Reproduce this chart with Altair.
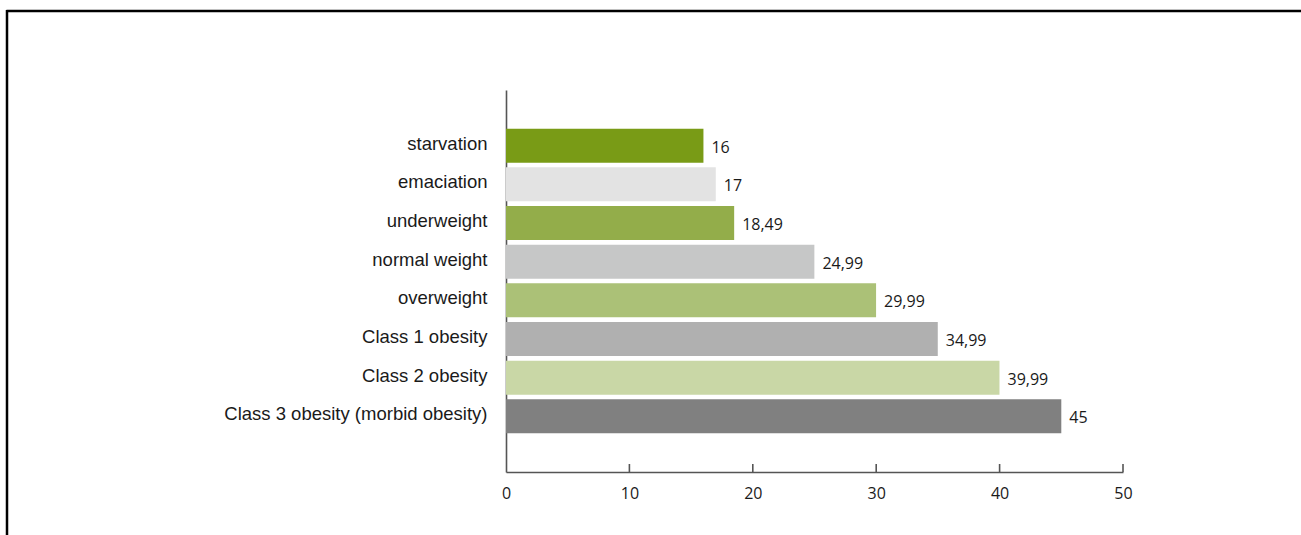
import altair as alt
import pandas as pd

# BMI category upper bounds
categories = [
    "starvation",
    "emaciation",
    "underweight",
    "normal weight",
    "overweight",
    "Class 1 obesity",
    "Class 2 obesity",
    "Class 3 obesity (morbid obesity)",
]
bmi_values = [16, 17, 18.49, 24.99, 29.99, 34.99, 39.99, 45]
bar_colors = [
    "#799b16",
    "#e3e3e3",
    "#93ad4a",
    "#c6c7c7",
    "#abc177",
    "#b0b0b0",
    "#c9d7a6",
    "#808080",
]
x_ticks = [0, 10, 20, 30, 40, 50]


def fmt(v):
    s = f"{v:g}"
    return s.replace(".", ",")


df = pd.DataFrame(
    {
        "category": categories,
        "bmi": bmi_values,
        "label": [fmt(v) for v in bmi_values],
    }
)
ticks_df = pd.DataFrame({"t": x_ticks[1:]})

W, H = 617, 382
PAD_L, PAD_T = 506, 90

x_scale = alt.Scale(domain=[0, 50], nice=False, zero=True)
y_scale = alt.Scale(domain=categories, paddingInner=0.12, paddingOuter=1.0)

bars = alt.Chart(df).mark_bar().encode(
    x=alt.X(
        "bmi:Q",
        scale=x_scale,
        axis=alt.Axis(
            values=x_ticks,
            title=None,
            grid=False,
            ticks=False,
            tickSize=0,
            domainColor="#555555",
            domainWidth=1.6,
            labelFont="Open Sans",
            labelFontSize=16,
            labelColor="#1a1a1a",
            labelPadding=13,
            labelFlush=False,
        ),
    ),
    y=alt.Y(
        "category:N",
        sort=categories,
        scale=y_scale,
        axis=alt.Axis(
            title=None,
            ticks=False,
            tickSize=0,
            domainColor="#555555",
            domainWidth=1.6,
            labelFont="Liberation Sans",
            labelFontSize=18.5,
            labelColor="#1a1a1a",
            labelPadding=19,
            labelLimit=0,
            labelOffset=-2,
        ),
    ),
    color=alt.Color(
        "category:N",
        scale=alt.Scale(domain=categories, range=bar_colors),
        legend=None,
    ),
)

value_labels = alt.Chart(df).mark_text(
    align="left",
    baseline="middle",
    dx=8,
    dy=2,
    font="Open Sans",
    fontSize=16,
    color="#1a1a1a",
).encode(
    x=alt.X("bmi:Q", scale=x_scale),
    y=alt.Y("category:N", sort=categories, scale=y_scale),
    text="label:N",
)

# upward tick marks on the value axis
tick_marks = alt.Chart(ticks_df).mark_rule(color="#555555", strokeWidth=1.6).encode(
    x=alt.X("t:Q", scale=x_scale),
    y=alt.value(H - 8),
    y2=alt.value(H),
)

# frame lines along the top and left edge of the figure
frame_top = alt.Chart(ticks_df.head(1)).mark_rule(color="#000000", strokeWidth=2.5).encode(
    x=alt.value(6.5 - PAD_L),
    x2=alt.value(1301 - PAD_L),
    y=alt.value(11 - PAD_T),
)
frame_left = alt.Chart(ticks_df.head(1)).mark_rule(color="#000000", strokeWidth=2.5).encode(
    x=alt.value(7 - PAD_L),
    y=alt.value(10 - PAD_T),
    y2=alt.value(535 - PAD_T),
)

chart = (
    alt.layer(bars, value_labels, tick_marks, frame_top, frame_left)
    .properties(
        width=W,
        height=H,
        autosize=alt.AutoSizeParams(type="none"),
        padding={"left": PAD_L, "top": PAD_T, "right": 1301 - PAD_L - W, "bottom": 535 - PAD_T - H},
        background="white",
    )
    .configure_view(stroke=None)
)

chart.save("out.html", embed_options={"renderer": "svg", "actions": False})
